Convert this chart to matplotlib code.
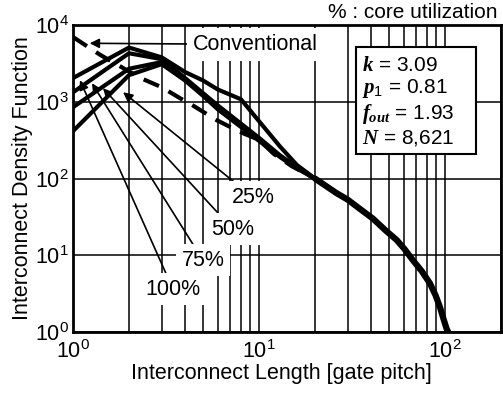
import numpy as np
import matplotlib
matplotlib.use('Agg')
import matplotlib.pyplot as plt
from matplotlib.patches import Rectangle
from matplotlib.ticker import LogLocator, NullFormatter

plt.rcParams['font.family'] = ['Liberation Sans', 'DejaVu Sans']
plt.rcParams['mathtext.fontset'] = 'custom'
plt.rcParams['mathtext.rm'] = 'Liberation Sans'
plt.rcParams['mathtext.it'] = 'Liberation Serif:italic:bold'
plt.rcParams['mathtext.bf'] = 'Liberation Serif:bold'

# start of each curve (up to the point where they merge)
x_head = [1, 2, 3, 4, 5, 6, 8, 10, 13, 16]
u25 = [2040, 5100, 3800, 2450, 1900, 1450, 1080, 560, 260, 150]
u50 = [1330, 4300, 3600, 2050, 1300, 900, 520, 340, 200, 140]
u75 = [850, 2700, 3300, 2000, 1250, 850, 490, 320, 195, 138]
u100 = [415, 2230, 3100, 1900, 1200, 800, 470, 310, 190, 135]

# conventional (dashed)
x_conv = [1, 1.4, 2.3, 3, 3.8, 4.4, 5.9, 8, 10, 12, 15]
y_conv = [7000, 4100, 2050, 1550, 1100, 900, 580, 400, 320, 210, 145]

# common tail
x_tail = [20, 26, 30, 35, 41, 48, 55, 61, 67, 75, 83, 89, 94, 98, 102, 104]
y_tail = [100, 65, 53, 40, 30, 21, 15.8, 11.8, 8.7, 6.2, 4.3, 3.0, 2.1, 1.5, 1.1, 1.0]

labels = ['25%', '50%', '75%', '100%']
label_xy = [(9.3, 57), (7.25, 21.8), (5.0, 8.6), (3.45, 3.6)]
arrow_to = [(1.86, 1334), (1.45, 1504), (1.265, 1747), (1.09, 1913)]

FS = 15.5

fig = plt.figure(figsize=(5.03, 3.99), dpi=100)
ax = fig.add_axes([0.1451, 0.168, 0.8509, 0.769])

for ys in [u25, u50, u75, u100]:
    ax.plot(x_head + x_tail[:1], ys + y_tail[:1], color='black', lw=3, zorder=3)
ax.plot(x_conv + x_tail[:1], y_conv + y_tail[:1], color='black', lw=3,
        ls=(0, (4, 2.6)), zorder=3)
ax.plot(x_tail, y_tail, color='black', lw=4.5, solid_capstyle='round', zorder=3)

ax.set_xscale('log')
ax.set_yscale('log')
ax.set_xlim(1, 200)
ax.set_ylim(1, 1e4)

ax.xaxis.set_major_locator(LogLocator(base=10, numticks=5))
ax.xaxis.set_minor_locator(LogLocator(base=10, subs=np.arange(2, 10), numticks=20))
ax.xaxis.set_minor_formatter(NullFormatter())
ax.yaxis.set_major_locator(LogLocator(base=10, numticks=6))
ax.yaxis.set_minor_locator(LogLocator(base=10, subs=[], numticks=6))

ax.grid(True, which='major', color='black', lw=1.1)
ax.grid(True, which='minor', axis='x', color='black', lw=1.1)
ax.set_axisbelow(True)
ax.tick_params(which='both', length=0, labelsize=FS)
ax.tick_params(axis='x', pad=6)
ax.tick_params(axis='y', pad=3)
for t in ax.get_yticklabels():
    t.set_verticalalignment('center_baseline')
for s in ax.spines.values():
    s.set_linewidth(2)
    s.set_zorder(5)

ax.set_xlabel('Interconnect Length [gate pitch]', fontsize=FS, labelpad=0)
ax.xaxis.label.set_x(0.486)
ax.set_ylabel('Interconnect Density Function', fontsize=FS, labelpad=1)

box = dict(facecolor='white', edgecolor='none', pad=4)
arr = dict(arrowstyle='-|>', color='black', lw=1.2, mutation_scale=14,
           shrinkA=0, shrinkB=0)
for lab, (tx, ty), (hx, hy) in zip(labels, label_xy, arrow_to):
    ax.annotate(lab, xy=(hx, hy), xytext=(tx, ty), fontsize=FS,
                ha='center', va='center', bbox=box, arrowprops=arr, zorder=4)

ax.annotate('Conventional', xy=(1.23, 5800), xytext=(4.42, 5600), fontsize=FS,
            ha='left', va='center', bbox=box, arrowprops=arr, zorder=4)

# parameter box
ax.add_patch(Rectangle((0.661, 0.58), 0.281, 0.348, transform=ax.transAxes,
                       facecolor='white', edgecolor='black', lw=1.5, zorder=6))
params = ('$k$ = 3.09\n$p_{\\mathit{1}}$ = 0.81\n$f_{out}$ = 1.93\n$N$ = 8,621')
ax.text(0.676, 0.9, params, transform=ax.transAxes, fontsize=15,
        ha='left', va='top', linespacing=1.13, zorder=7)

fig.text(0.99, 0.968, '% : core utilization', fontsize=15, ha='right', va='center')

fig.savefig('out.png', dpi=100)
